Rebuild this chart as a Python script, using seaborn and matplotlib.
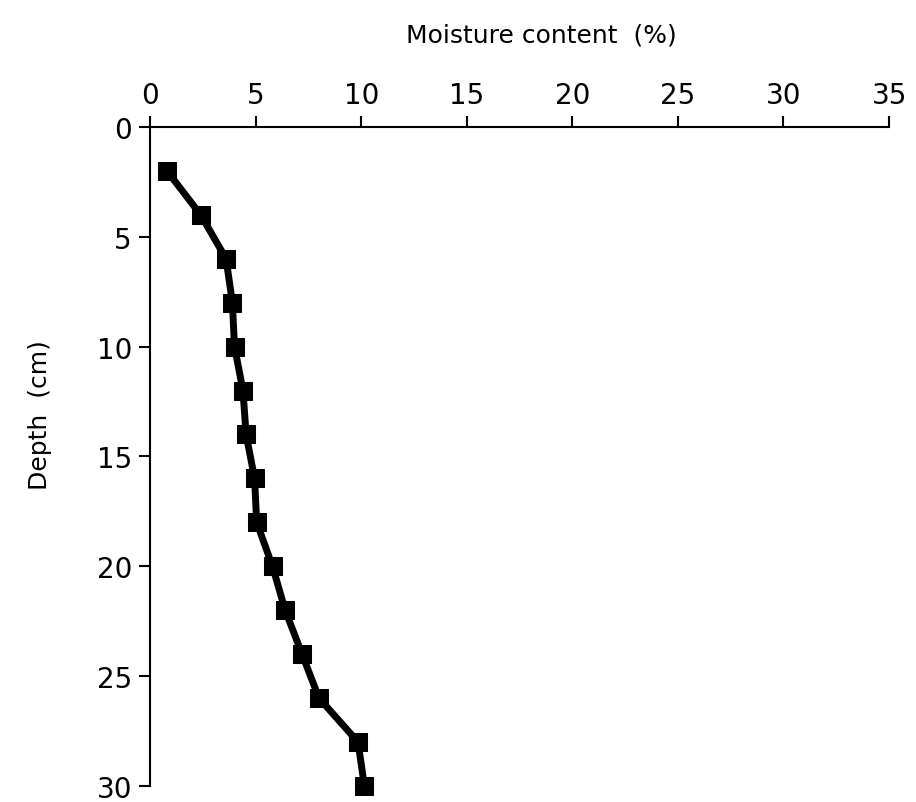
import matplotlib
matplotlib.use("Agg")
import matplotlib.pyplot as plt
import seaborn as sns
import pandas as pd

# Data
depth_cm = [2, 4, 6, 8, 10, 12, 14, 16, 18, 20, 22, 24, 26, 28, 30]
moisture_pct = [0.8, 2.4, 3.6, 3.9, 4.0, 4.4, 4.55, 4.95, 5.05, 5.8, 6.4, 7.2, 8.0, 9.85, 10.15]
x_ticks = [0, 5, 10, 15, 20, 25, 30, 35]
y_ticks = [0, 5, 10, 15, 20, 25, 30]

df = pd.DataFrame({"moisture": moisture_pct, "depth": depth_cm})

sns.set_theme(style="white")
plt.rcParams["font.family"] = ["DejaVu Sans"]

fig = plt.figure(figsize=(9.16, 8.03), dpi=100)
ax = fig.add_axes([0.1638, 0.02, 0.8068, 0.8207])

sns.lineplot(data=df, x="moisture", y="depth", sort=False, estimator=None,
             color="black", linewidth=5, marker="s", markersize=12.5,
             markeredgecolor="black", ax=ax, clip_on=False)

ax.set_xlim(0, 35)
ax.set_ylim(30, 0)
ax.set_xticks(x_ticks)
ax.set_yticks(y_ticks)

ax.xaxis.tick_top()
ax.xaxis.set_label_position("top")
ax.set_xlabel("Moisture content  (%)", fontsize=18, color="black")
ax.set_ylabel("Depth  (cm)", fontsize=18, color="black")
# label positions in axes fraction (from the reference)
ax.xaxis.set_label_coords(0.53, 1.13)
ax.yaxis.set_label_coords(-0.133, 0.565)

for side in ["right", "bottom"]:
    ax.spines[side].set_visible(False)
for side in ["left", "top"]:
    ax.spines[side].set_color("black")
    ax.spines[side].set_linewidth(1.5)

ax.tick_params(axis="both", which="major", direction="out", length=8, width=1.5,
               color="black", labelcolor="black", labelsize=20, pad=5)
ax.tick_params(axis="x", top=True, bottom=False)
ax.tick_params(axis="y", left=True, right=False)
ax.grid(False)

fig.savefig("out.png", dpi=100)
